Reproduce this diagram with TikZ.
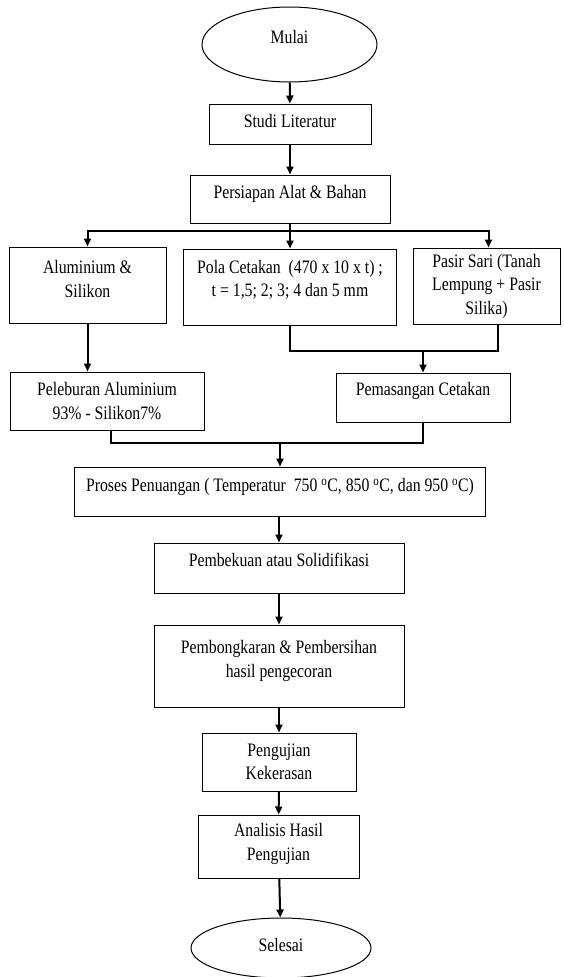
\documentclass[tikz,border=0pt]{standalone}
\usepackage{fontspec}
\setmainfont[FakeStretch=0.83]{Liberation Serif}
\usetikzlibrary{shapes.geometric,arrows.meta}

\begin{document}
\begin{tikzpicture} %Diagram alir
      [
      x=1pt, y=-1pt,
      font=\fontsize{19}{23.5}\selectfont,
      kotak/.style={rectangle, draw, line width=1pt, align=center, inner sep=0pt},
      oval/.style={ellipse, draw, line width=1pt, inner sep=0pt, text height=13pt},
      satu/.style={text height=13pt, text depth=#1},
      panah/.style={line width=2pt, -{Triangle[length=8pt,width=7pt]}},
      garis/.style={line width=2pt}
      ]
      \useasboundingbox (0,0) rectangle (563,977);
      \node[oval, minimum width=175pt, minimum height=75pt, text depth=16pt] (mulai) at (289.5,44.5) {Mulai};
      \node[kotak, satu=6pt, minimum width=162pt, minimum height=40pt] (studi) at (290,124) {Studi Literatur};
      \node[kotak, satu=14pt, minimum width=200pt, minimum height=48pt] (siap) at (290,199) {Persiapan Alat \& Bahan};
      \node[kotak, text depth=12pt, minimum width=157pt, minimum height=76pt] (alsi) at (87.5,285) {Aluminium \&\\ Silikon};
      \node[kotak, text depth=17pt, minimum width=213pt, minimum height=76pt] (pola) at (290,287) {Pola Cetakan~ (470 x 10 x t) ;\\ t = 1,5; 2; 3; 4 dan 5 mm};
      \node[kotak, minimum width=147pt, minimum height=76pt] (pasir) at (486.5,286) {Pasir Sari (Tanah\\ Lempung + Pasir\\ Silika)};
      \node[kotak, minimum width=194pt, minimum height=58pt] (lebur) at (107,401) {Peleburan Aluminium\\ 93\% - Silikon7\%};
      \node[kotak, satu=17pt, minimum width=174pt, minimum height=49pt] (pasang) at (423,397.5) {Pemasangan Cetakan};
      \node[kotak, satu=13pt, minimum width=411pt, minimum height=49pt] (proses) at (280,491.5) {Proses Penuangan ( Temperatur~ 750 \textsuperscript{o}C, 850 \textsuperscript{o}C, dan 950 \textsuperscript{o}C)};
      \node[kotak, satu=16pt, minimum width=250pt, minimum height=50pt] (beku) at (279,568) {Pembekuan atau Solidifikasi};
      \node[kotak, text depth=14pt, minimum width=250pt, minimum height=82pt] (bongkar) at (279,666) {Pembongkaran \& Pembersihan\\ hasil pengecoran};
      \node[kotak, minimum width=154pt, minimum height=58pt] (uji) at (279,762) {Pengujian\\ Kekerasan};
      \node[kotak, text depth=9pt, minimum width=161pt, minimum height=63pt] (analisis) at (278.5,846.5) {Analisis Hasil\\ Pengujian};
      \node[oval, minimum width=180pt, minimum height=60pt, text depth=6pt] (selesai) at (281,948) {Selesai};
      \coordinate (cabang) at (290,231);
      \coordinate (gabung1) at (423,351);
      \coordinate (gabung2) at (280,443);
      \draw[panah] (mulai) -- (studi);
      \draw[panah] (studi) -- (siap);
      \draw[panah] (siap.south) -- (cabang) -| (alsi.north);
      \draw[panah] (cabang) -- (pola.north);
      \draw[panah] (cabang) -| ([xshift=2pt]pasir.north);
      \draw[panah] (alsi) -- (alsi |- lebur.north);
      \draw[garis] (pola.south) |- (gabung1);
      \draw[garis] ([xshift=11pt]pasir.south) |- (gabung1);
      \draw[panah] (gabung1) -- (pasang.north);
      \draw[garis] ([xshift=4pt]lebur.south) |- (gabung2);
      \draw[garis] (pasang.south) |- (gabung2);
      \draw[panah] (gabung2) -- (proses.north);
      \draw[panah] (proses.south -| beku) -- (beku);
      \draw[panah] (beku) -- (bongkar);
      \draw[panah] (bongkar) -- (uji);
      \draw[panah] (uji) -- (analisis);
      \draw[panah] (analisis) -- (selesai);
\end{tikzpicture}
\end{document}
